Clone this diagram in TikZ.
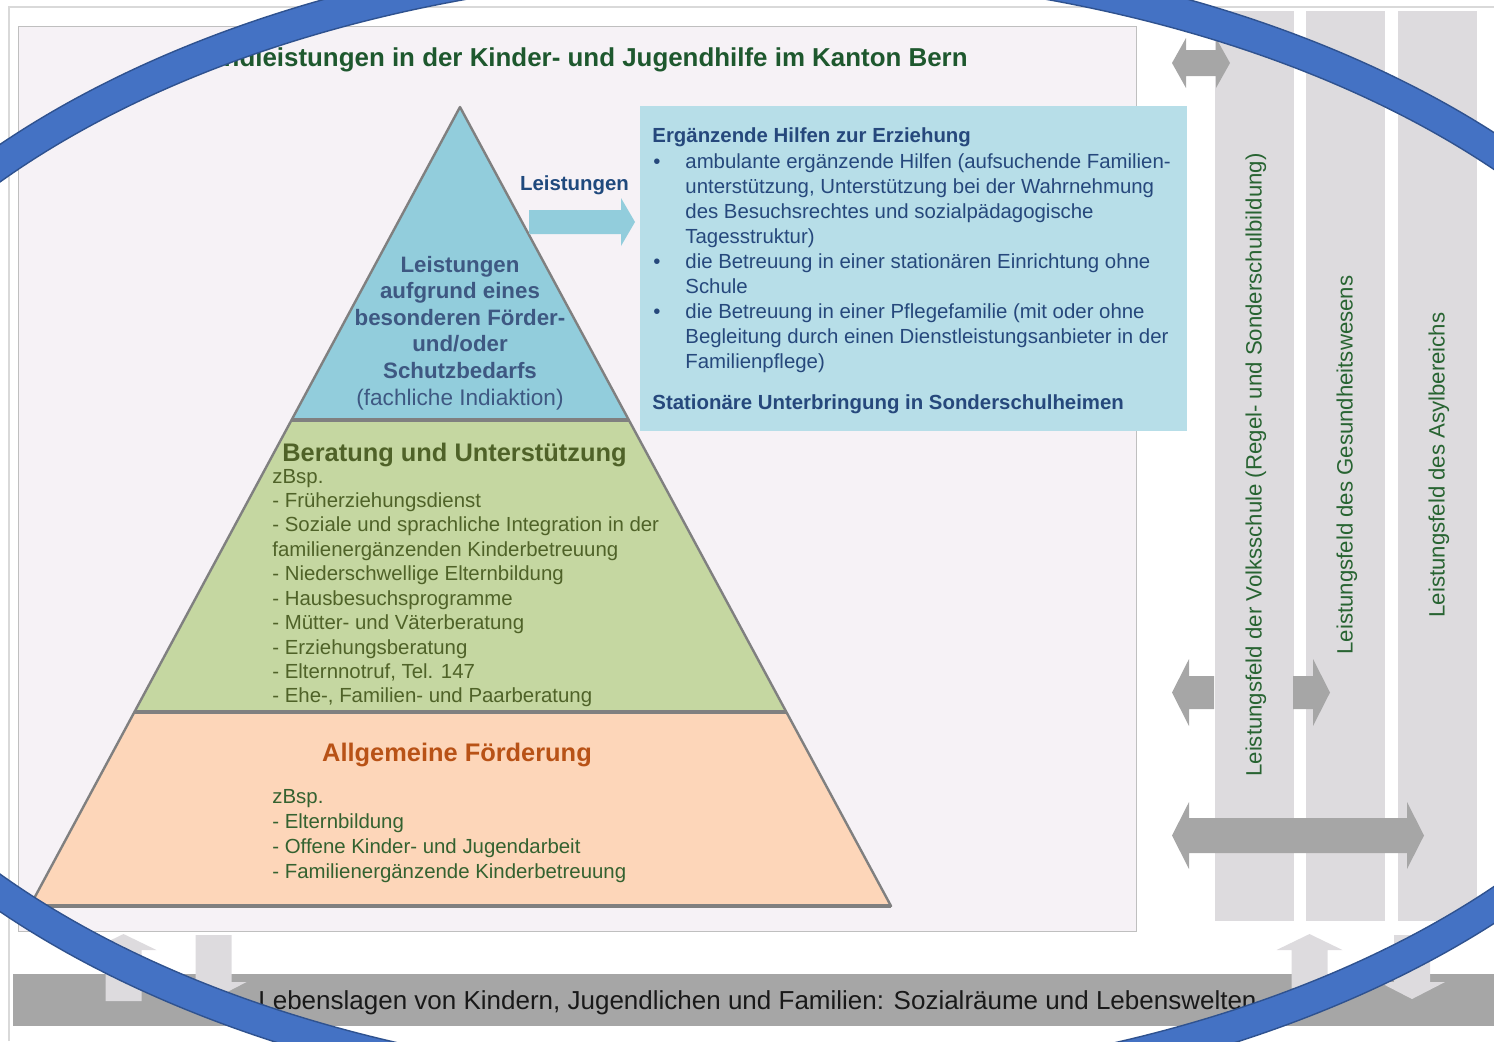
\documentclass[tikz,border=0pt]{standalone}
\usepackage{fontspec}
\setmainfont{Liberation Sans}
\usetikzlibrary{positioning,calc}

\definecolor{titlegreen}{RGB}{30,88,46}
\definecolor{framegray}{RGB}{217,217,217}
\definecolor{boxgray}{RGB}{191,191,191}
\definecolor{innerbg}{RGB}{246,242,246}
\definecolor{colgray}{RGB}{221,219,222}
\definecolor{arrowgray}{RGB}{166,166,166}
\definecolor{tierblue}{RGB}{146,205,220}
\definecolor{tiergreen}{RGB}{197,215,161}
\definecolor{tierpeach}{RGB}{253,214,185}
\definecolor{hilfeblue}{RGB}{183,222,232}
\definecolor{hilfetext}{RGB}{38,72,124}
\definecolor{leistblue}{RGB}{31,73,125}
\definecolor{toptext}{RGB}{62,88,130}
\definecolor{olivetext}{RGB}{79,98,40}
\definecolor{orangetext}{RGB}{184,82,22}
\definecolor{listgreen}{RGB}{52,98,48}
\definecolor{fieldgreen}{RGB}{40,100,50}
\definecolor{bartext}{RGB}{25,25,25}
\definecolor{pyredge}{RGB}{128,128,128}
\definecolor{ringblue}{RGB}{68,114,196}
\definecolor{ringedge}{RGB}{47,82,143}

\begin{document}
\begin{tikzpicture}[x=0.5pt, y=-0.5pt,
    titletext/.style={font=\bfseries\fontsize{12.95}{15}\selectfont, text=titlegreen, inner sep=0pt},
    needtext/.style={font=\bfseries\fontsize{11.15}{13}\selectfont, text=toptext, inner sep=0pt, anchor=base},
    hilfeline/.style={font=\fontsize{10.2}{12}\selectfont, text=hilfetext, inner sep=0pt, anchor=base west},
    tierhead/.style={font=\bfseries\fontsize{12.7}{15}\selectfont, inner sep=0pt, anchor=base},
    tierline/.style={font=\fontsize{10.2}{12}\selectfont, inner sep=0pt, anchor=base west},
    fieldtext/.style={font=\fontsize{11.1}{13}\selectfont, text=fieldgreen, inner sep=0pt, rotate=90, anchor=base},
    ]
    \useasboundingbox (0,0) rectangle (1494,1041);
    \begin{scope}
    \clip (0,0) rectangle (1494,1041);

    % frame and background box
    \draw[framegray, line width=1pt] (9,1041) -- (9,7) -- (1494,7);
    \draw[boxgray, fill=innerbg, line width=0.5pt] (18,26) rectangle (1136,931);

    % fields on the right
    \foreach \x in {1215,1306,1398}
        \fill[colgray] (\x,11) rectangle ++(79,910);
    \fill[arrowgray] (13,974) rectangle (1494,1026);

    % arrows between fields
    \fill[arrowgray] (1172,63) -- (1186,38) -- (1186,50) -- (1216,50) -- (1216,38) -- (1230,63)
        -- (1216,88) -- (1216,76) -- (1186,76) -- (1186,88) -- cycle;
    \fill[arrowgray] (1172,692.5) -- (1189,659) -- (1189,676) -- (1214,676) -- (1214,709)
        -- (1189,709) -- (1189,726) -- cycle;
    \fill[arrowgray] (1293,676) -- (1313,676) -- (1313,659) -- (1330,692.5) -- (1313,726)
        -- (1313,709) -- (1293,709) -- cycle;
    \fill[arrowgray] (1172,835.5) -- (1189,802) -- (1189,818) -- (1407,818) -- (1407,802) -- (1424,835.5)
        -- (1407,869) -- (1407,853) -- (1189,853) -- (1189,869) -- cycle;
    \foreach \c/\b in {123.5/1001, 1309.5/988}
        \fill[colgray] (\c-18,\b) -- (\c-18,950) -- (\c-33,950) -- (\c,934) -- (\c+33,950)
            -- (\c+18,950) -- (\c+18,\b) -- cycle;
    \foreach \c in {213.5, 1412}
        \fill[colgray] (\c-18,935) -- (\c+18,935) -- (\c+18,982) -- (\c+33,982) -- (\c,999)
            -- (\c-33,982) -- (\c-18,982) -- cycle;

    \foreach \t/\x in {{Leistungsfeld der Volksschule (Regel- und Sonderschulbildung)}/1254.5,
            {Leistungsfeld des Gesundheitswesens}/1345.5, {Leistungsfeld des Asylbereichs}/1437.5}
        \node[fieldtext] at (\x+7,465) {\t};
    \node[font=\fontsize{13}{15}\selectfont, text=bartext, inner sep=0pt, anchor=base] (lage) at (757.5,1009.3)
        {Lebenslagen von Kindern, Jugendlichen und Familien: Sozialräume und Lebenswelten};

    % title
    \node[titletext, anchor=base east] (title) at (968,66.3)
        {Grundleistungen in der Kinder- und Jugendhilfe im Kanton Bern};

    % pyramid
    \coordinate (apex) at (460,107);
    \coordinate (bl) at (30,906);
    \coordinate (br) at (891,906);
    \coordinate (l1) at ($(apex)!0.3917!(bl)$);
    \coordinate (r1) at ($(apex)!0.3917!(br)$);
    \coordinate (l2) at ($(apex)!0.7572!(bl)$);
    \coordinate (r2) at ($(apex)!0.7572!(br)$);
    \fill[tierblue] (apex) -- (r1) -- (l1) -- cycle;
    \fill[tiergreen] (l1) -- (r1) -- (r2) -- (l2) -- cycle;
    \fill[tierpeach] (l2) -- (r2) -- (br) -- (bl) -- cycle;
    \draw[pyredge, line width=1.2pt, line join=round] (apex) -- (br) -- (bl) -- cycle;
    \draw[pyredge, line width=2pt] (l1) -- (r1) (l2) -- (r2) (bl) -- (br);

    \foreach \t [count=\i from 0] in {Leistungen, aufgrund eines, besonderen Förder-, und/oder, Schutzbedarfs}
        \node[needtext] (need-\i) at (460,272+26.6*\i) {\t};
    \node[needtext, font=\fontsize{11.3}{13}\selectfont] (need-5) at (460,405) {(fachliche Indiaktion)};

    \node[tierhead, anchor=base west, text=olivetext] (beratung) at (282,461) {Beratung und Unterstützung};
    \foreach \t [count=\i from 0] in {zBsp., - Früherziehungsdienst,
            - Soziale und sprachliche Integration in der, familienergänzenden Kinderbetreuung,
            - Niederschwellige Elternbildung, - Hausbesuchsprogramme, - Mütter- und Väterberatung,
            - Erziehungsberatung, {- Elternnotruf, Tel. 147}, {- Ehe-, Familien- und Paarberatung}}
        \node[tierline, text=olivetext] (mid-\i) at (272,483+24.44*\i) {\t};

    \node[tierhead, text=orangetext] (allg) at (457,761) {Allgemeine Förderung};
    \foreach \t [count=\i from 0] in {zBsp., - Elternbildung, - Offene Kinder- und Jugendarbeit,
            - Familienergänzende Kinderbetreuung}
        \node[tierline, text=listgreen] (low-\i) at (272,803+25*\i) {\t};

    % Leistungen arrow and box
    \node[font=\bfseries\fontsize{10.2}{12}\selectfont, text=leistblue, inner sep=0pt, anchor=base]
        (leist) at (574.5,190) {Leistungen};
    \fill[tierblue] (529,210) -- (621,210) -- (621,198) -- (635,222) -- (621,246) -- (621,234)
        -- (529,234) -- cycle;
    \fill[hilfeblue] (640,106) rectangle (1187,431);
    \node[hilfeline, font=\bfseries\fontsize{10.2}{12}\selectfont] (hilfen) at (652,142)
        {Ergänzende Hilfen zur Erziehung};
    \foreach \t [count=\i from 0] in {ambulante ergänzende Hilfen (aufsuchende Familien-,
            {unterstützung, Unterstützung bei der Wahrnehmung}, des Besuchsrechtes und sozialpädagogische,
            Tagesstruktur), die Betreuung in einer stationären Einrichtung ohne, Schule,
            die Betreuung in einer Pflegefamilie (mit oder ohne,
            Begleitung durch einen Dienstleistungsanbieter in der, Familienpflege)}
        \node[hilfeline] (hilfe-\i) at (685,168+25.1*\i) {\t};
    \foreach \i in {0,4,6}
        \node[hilfeline, anchor=base] (dot-\i) at (657,168+25.1*\i) {\textbullet};
    \node[hilfeline, font=\bfseries\fontsize{10.2}{12}\selectfont] (sonder) at (652,409)
        {Stationäre Unterbringung in Sonderschulheimen};

    % blue ring
    \draw[ringedge, fill=ringblue, line width=0.7pt, even odd rule]
        (756,528) ellipse [x radius=500pt, y radius=293pt]
        (756,528) ellipse [x radius=484pt, y radius=277pt];
    \end{scope}
\end{tikzpicture}
\end{document}
